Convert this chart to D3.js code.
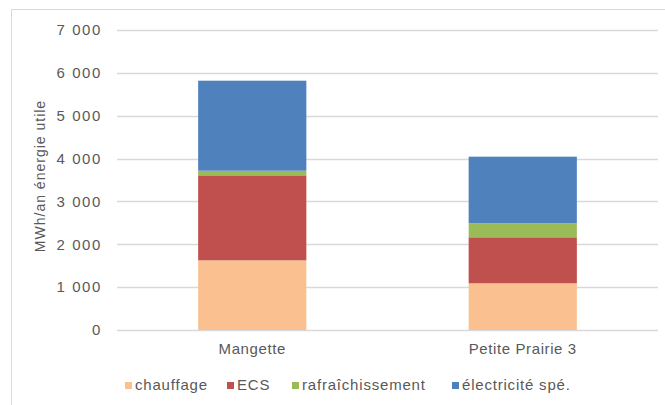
<!DOCTYPE html>
<html>
<head>
<meta charset="utf-8">
<script src="https://cdn.jsdelivr.net/npm/d3@7"></script>
<style>
  body { margin: 0; background: #fff; }
  text { font-family: "Liberation Sans", Arial, sans-serif; fill: #595959; }
</style>
</head>
<body>
<div id="chart"></div>
<script>
const sites = ["Mangette", "Petite Prairie 3"];
const series = ["chauffage", "ECS", "rafraîchissement", "électricité spé."];
const chauffage = [1626, 1090];
const ecs = [1983, 1073];
const rafraichissement = [108, 327];
const electricite = [2100, 1554];
const yTicks = [0, 1000, 2000, 3000, 4000, 5000, 6000, 7000];
const colors = ["#FAC090", "#C0504D", "#9BBB59", "#4F81BD"];

const width = 665, height = 405;
const margin = { left: 117, right: 7, top: 30, bottom: 75 };

const rows = sites.map((s, i) => ({
    site: s,
    "chauffage": chauffage[i],
    "ECS": ecs[i],
    "rafraîchissement": rafraichissement[i],
    "électricité spé.": electricite[i]
}));

const svg = d3.select("#chart")
              .append("svg")
              .attr("width", width)
              .attr("height", height);

// outer frame (only left and top edges visible)
svg.append("path")
   .attr("d", `M11.5,${height} V9.5 H${width}`)
   .attr("fill", "none")
   .attr("stroke", "#d9d9d9");

const x = d3.scaleBand()
            .domain(sites)
            .range([margin.left, width - margin.right])
            .paddingInner(0.6)
            .paddingOuter(0.3);

const y = d3.scaleLinear()
            .domain([0, 7000])
            .range([height - margin.bottom, margin.top]);

// grid lines
svg.append("g")
   .selectAll("line")
   .data(yTicks)
   .join("line")
   .attr("x1", margin.left)
   .attr("x2", width - margin.right)
   .attr("y1", d => Math.round(y(d)) + 0.5)
   .attr("y2", d => Math.round(y(d)) + 0.5)
   .attr("stroke", "#d9d9d9")
   .attr("stroke-width", 1.3);

// y axis labels
const fmt = d => d3.format(",")(d).replace(",", " ");
const yAxis = d3.axisLeft(y).tickValues(yTicks).tickFormat(fmt).tickSize(0).tickPadding(15);
svg.append("g")
   .attr("transform", `translate(${margin.left},0)`)
   .call(yAxis)
   .call(g => g.select(".domain").remove())
   .call(g => g.selectAll("text")
               .attr("font-size", 15)
               .attr("letter-spacing", 1.6)
               .attr("fill", "#595959"));

// stacked bars
const stack = d3.stack().keys(series)(rows);
svg.append("g")
   .selectAll("g")
   .data(stack)
   .join("g")
   .attr("fill", (d, i) => colors[i])
   .selectAll("rect")
   .data(d => d)
   .join("rect")
   .attr("x", d => x(d.data.site))
   .attr("width", x.bandwidth())
   .attr("y", d => y(d[1]))
   .attr("height", d => y(d[0]) - y(d[1]));

// x axis labels
const xAxis = d3.axisBottom(x).tickSize(0).tickPadding(13);
svg.append("g")
   .attr("transform", `translate(0,${y(0)})`)
   .call(xAxis)
   .call(g => g.select(".domain").remove())
   .call(g => g.selectAll("text")
               .attr("font-size", 15)
               .attr("letter-spacing", 0.6)
               .attr("fill", "#595959"));

// y axis title
svg.append("text")
   .attr("transform", `translate(45,176) rotate(-90)`)
   .attr("text-anchor", "middle")
   .attr("font-size", 14)
   .attr("letter-spacing", 1)
   .text("MWh/an énergie utile");

// legend
const legendX = [125, 227, 292, 452];
const legend = svg.append("g")
                  .selectAll("g")
                  .data(series)
                  .join("g")
                  .attr("transform", (d, i) => `translate(${legendX[i]},382)`);
legend.append("rect")
      .attr("width", 7)
      .attr("height", 7)
      .attr("fill", (d, i) => colors[i]);
legend.append("text")
      .attr("x", 10)
      .attr("y", 8)
      .attr("font-size", 15)
      .attr("letter-spacing", 0.8)
      .text(d => d);
</script>
</body>
</html>
